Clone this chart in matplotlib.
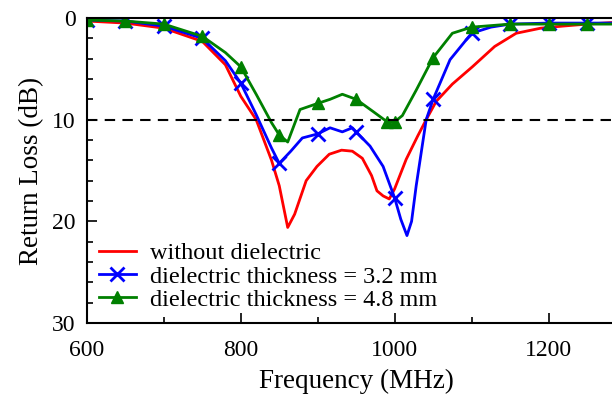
import matplotlib.pyplot as plt
from matplotlib.ticker import MultipleLocator
import numpy as np

plt.rcParams['font.family'] = ['Liberation Serif', 'DejaVu Serif']

# without dielectric
freq_red = [600, 650, 700, 750, 780, 800, 820, 840, 850, 861, 870, 885, 899, 915, 931, 945,
            958, 970, 977, 985, 993, 1000, 1015, 1030, 1041, 1054, 1075, 1101, 1130, 1158,
            1190, 1218, 1250, 1282]
rl_red = [0.3, 0.5, 1.0, 2.3, 4.6, 7.7, 10.0, 14.0, 16.5, 20.6, 19.3, 16.0, 14.6, 13.4,
          13.0, 13.1, 13.8, 15.5, 17.0, 17.5, 17.8, 16.8, 13.9, 11.6, 10.0, 8.2, 6.5, 4.8,
          2.8, 1.5, 1.0, 0.8, 0.6, 0.45]

# dielectric thickness = 3.2 mm
freq_blue = [600, 650, 700, 750, 780, 800, 820, 840, 850, 865, 880, 900, 916, 932, 945,
             950, 968, 985, 1000, 1008, 1016, 1022, 1028, 1041, 1050, 1072, 1100, 1125,
             1150, 1200, 1250, 1282]
rl_blue = [0.2, 0.3, 0.8, 2.0, 4.2, 6.4, 9.5, 12.8, 14.3, 13.1, 11.8, 11.4, 10.8, 11.2,
           10.8, 11.2, 12.6, 14.6, 17.7, 19.8, 21.4, 20.0, 16.5, 10.0, 8.0, 4.1, 1.5, 0.9,
           0.6, 0.5, 0.5, 0.5]

# dielectric thickness = 4.8 mm
freq_green = [600, 650, 700, 750, 780, 800, 820, 840, 850, 861, 877, 900, 916, 932, 950,
              972, 990, 1000, 1010, 1028, 1050, 1075, 1100, 1150, 1200, 1250, 1282]
rl_green = [0.2, 0.3, 0.6, 1.8, 3.4, 4.8, 7.5, 10.3, 11.5, 12.2, 9.0, 8.4, 8.0, 7.5, 8.0,
            9.2, 10.2, 10.2, 9.6, 7.1, 3.9, 1.5, 0.9, 0.6, 0.6, 0.6, 0.6]

mark_blue = [0, 1, 2, 3, 5, 8, 11, 15, 18, 24, 26, 28, 29, 30]
mark_green = [0, 1, 2, 3, 5, 8, 11, 14, 16, 17, 20, 22, 23, 24, 25]

fig = plt.figure(figsize=(6.12, 4.0), dpi=100)
ax = fig.add_axes([0.142, 0.1925, 0.88, 0.7625])

ax.plot(freq_red, rl_red, color='red', lw=2.0, label='without dielectric')
ax.plot(freq_blue, rl_blue, color='blue', lw=2.0, marker='x', ms=10, mew=2,
        markevery=mark_blue, label='dielectric thickness = 3.2 mm')
ax.plot(freq_green, rl_green, color='green', lw=2.0, marker='^', ms=9,
        markevery=mark_green, label='dielectric thickness = 4.8 mm')
ax.axhline(10, color='black', lw=1.5, ls=(0, (5, 3.5)))

ax.set_xlim(600, 1300)
ax.set_ylim(30, 0)
ax.xaxis.set_major_locator(MultipleLocator(200))
ax.xaxis.set_minor_locator(MultipleLocator(100))
ax.yaxis.set_major_locator(MultipleLocator(10))
ax.yaxis.set_minor_locator(MultipleLocator(2))
ax.tick_params(which='both', direction='in', labelsize=17, width=1.2)
ax.tick_params(which='major', length=7)
ax.tick_params(which='minor', length=4)
ax.tick_params(axis='x', pad=12)
ax.tick_params(axis='y', pad=8)
for s in ax.spines.values():
    s.set_linewidth(1.5)

ax.set_xlabel('Frequency (MHz)', fontsize=19.5, labelpad=6)
ax.set_ylabel('Return Loss (dB)', fontsize=19.5, labelpad=6)

ax.legend(loc='lower left', frameon=False, fontsize=17.5, handlelength=1.5,
          borderaxespad=0.1, labelspacing=0.05, handletextpad=0.6)

fig.savefig('out.png', dpi=100)
